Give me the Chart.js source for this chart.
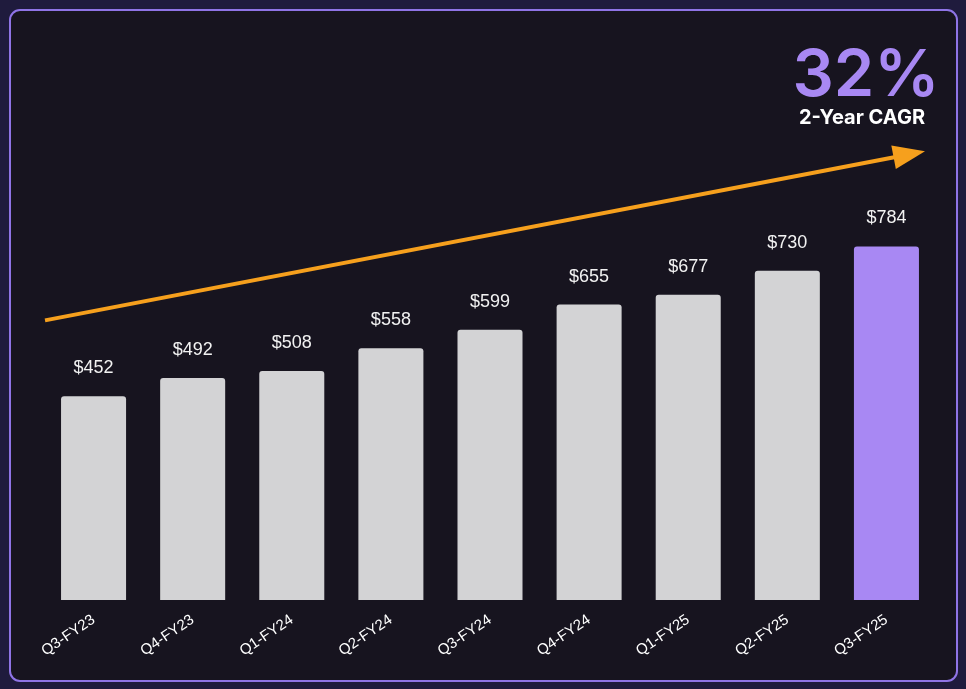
<!DOCTYPE html>
<html>
<head>
<meta charset="utf-8">
<script src="https://cdn.jsdelivr.net/npm/chart.js@4.4.1/dist/chart.umd.min.js"></script>
<style>
    html, body {
        margin: 0;
        padding: 0;
        background: #1f1b3d;
        width: 966px;
        height: 689px;
        overflow: hidden;
    }
    .card {
        position: absolute;
        left: 9px;
        top: 9px;
        width: 945px;
        height: 669px;
        background: #17141f;
        border: 2px solid #8f74e6;
        border-radius: 11px;
    }
    .chartBox {
        position: absolute;
        left: 0;
        top: 0;
        width: 966px;
        height: 689px;
    }
    .cagr {
        position: absolute;
        left: 766px;
        width: 200px;
        text-align: center;
        font-family: Inter, "Noto Sans", sans-serif;
    }
    .cagr.big {
        top: 33px;
        font-size: 65px;
        font-weight: 600;
        line-height: 80px;
        color: #a888f3;
    }
    .cagr.small {
        top: 104px;
        font-size: 20px;
        font-weight: 700;
        line-height: 26px;
        color: #ffffff;
        left: 762px;
    }
</style>
</head>
<body>
<div class="card"></div>
<div class="chartBox"><canvas id="revenueChart"></canvas></div>
<div class="cagr big">32%</div>
<div class="cagr small">2-Year CAGR</div>

<script>
const quarters = ["Q3-FY23", "Q4-FY23", "Q1-FY24", "Q2-FY24", "Q3-FY24", "Q4-FY24", "Q1-FY25", "Q2-FY25", "Q3-FY25"];
const revenue = [452, 492, 508, 558, 599, 655, 677, 730, 784];
const barColors = ["#d3d3d5", "#d3d3d5", "#d3d3d5", "#d3d3d5", "#d3d3d5", "#d3d3d5", "#d3d3d5", "#d3d3d5", "#a888f3"];
// trend arrow, in value units: start and end level
const trendFrom = 620;
const trendTo = 995;

const valueLabels = {
    id: "valueLabels",
    afterDatasetsDraw(chart) {
        const ctx = chart.ctx;
        const meta = chart.getDatasetMeta(0);
        ctx.save();
        ctx.font = "18px 'Liberation Sans', Arial, sans-serif";
        ctx.fillStyle = "#f2f2f2";
        ctx.textAlign = "center";
        ctx.textBaseline = "middle";
        meta.data.forEach(function (bar, i) {
            ctx.fillText("$" + revenue[i], bar.x, bar.y - 28);
        });
        ctx.restore();
    },
};

const trendArrow = {
    id: "trendArrow",
    afterDatasetsDraw(chart) {
        const ctx = chart.ctx;
        const area = chart.chartArea;
        const y = chart.scales.y;
        const x0 = area.left + 1;
        const y0 = y.getPixelForValue(trendFrom);
        const x1 = area.right - 11;
        const y1 = y.getPixelForValue(trendTo);
        const ang = Math.atan2(y1 - y0, x1 - x0);
        const headLen = 32;
        const headW = 12;
        const bx = x1 - headLen * Math.cos(ang);
        const by = y1 - headLen * Math.sin(ang);

        ctx.save();
        ctx.strokeStyle = "#f6a01d";
        ctx.fillStyle = "#f6a01d";
        ctx.lineWidth = 4;
        ctx.beginPath();
        ctx.moveTo(x0, y0);
        ctx.lineTo(bx + 2 * Math.cos(ang), by + 2 * Math.sin(ang));
        ctx.stroke();
        ctx.beginPath();
        ctx.moveTo(x1, y1);
        ctx.lineTo(bx - headW * Math.sin(ang), by + headW * Math.cos(ang));
        ctx.lineTo(bx + headW * Math.sin(ang), by - headW * Math.cos(ang));
        ctx.closePath();
        ctx.fill();
        ctx.restore();
    },
};

new Chart(document.getElementById("revenueChart"), {
    type: "bar",
    data: {
        labels: quarters,
        datasets: [
            {
                label: "Revenue",
                data: revenue,
                backgroundColor: barColors,
                borderRadius: 3,
                borderSkipped: "bottom",
                categoryPercentage: 0.82,
                barPercentage: 0.8,
            },
        ],
    },
    options: {
        responsive: true,
        maintainAspectRatio: false,
        animation: false,
        layout: {
            padding: { left: 44, right: 30, top: 149, bottom: 0 },
        },
        plugins: {
            legend: { display: false },
            tooltip: { enabled: false },
        },
        scales: {
            x: {
                grid: { display: false },
                border: { display: false },
                ticks: {
                    color: "#ffffff",
                    font: { family: "'Liberation Sans', Arial, sans-serif", size: 15 },
                    minRotation: 34,
                    maxRotation: 34,
                    padding: 3,
                },
                afterFit: function (scale) {
                    scale.height = 89;
                },
            },
            y: {
                display: false,
                min: 0,
                max: 1000,
            },
        },
    },
    plugins: [valueLabels, trendArrow],
});
</script>
</body>
</html>
